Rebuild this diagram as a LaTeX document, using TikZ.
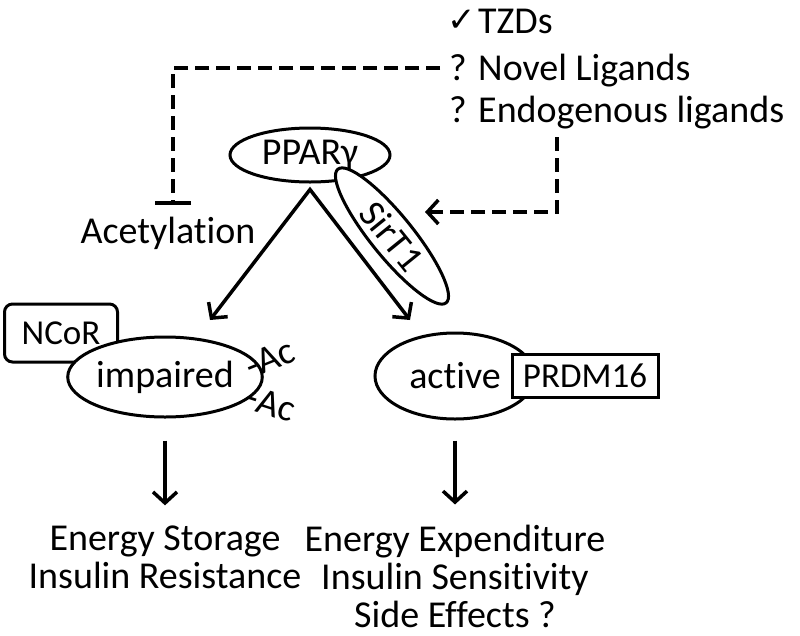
\documentclass[tikz,border=0pt]{standalone}
\usepackage{fontspec}
\setmainfont[Ligatures=NoCommon]{Carlito}
\newfontfamily\symfont{DejaVu Sans}
\usetikzlibrary{shapes.geometric,arrows.meta,positioning}

\tikzset{
  oval/.style={draw, ellipse, line width=3pt, fill=white, inner sep=0pt},
  factor/.style={draw, rectangle, line width=3pt, fill=white, inner sep=0pt, font=\fontsize{35}{35}\selectfont},
  link/.style={line width=3.5pt, -{Straight Barb[length=11pt,width=24pt]}},
  hint/.style={line width=3.5pt, dash pattern=on 14pt off 7pt},
  lbl/.style={align=center, inner sep=0pt}
}

\begin{document}
\begin{tikzpicture}[x=1pt, y=-1pt, font=\fontsize{38}{38}\selectfont]
\useasboundingbox (0,0) rectangle (800,635);

% Ligand list
\node[lbl, anchor=base west] (tzd) at (478,33) {TZDs};
\node[lbl, anchor=base west] (novel) at (478,80) {Novel Ligands};
\node[lbl, anchor=base west] (endo) at (478,122) {Endogenous ligands};
\node[lbl, anchor=base] (tick) at (462,31) {\symfont\fontsize{34}{34}\selectfont ✓};
\node[lbl, anchor=base] (qnovel) at (458,80) {?};
\node[lbl, anchor=base] (qendo) at (458,122) {?};

% PPARg with SirT1 bound
\node[oval, minimum width=160pt, minimum height=54pt] (ppar) at (310,155) {PPARγ};
\node[oval, minimum width=172pt, minimum height=42pt, rotate=-51] (sirt) at (392,236) {SirT1};

% Acetylation and the block from the ligands
\node[lbl] (acet) at (168,233) {Acetylation};
\coordinate (block-start) at (440,68);
\draw[hint, -{Bar[width=36pt]}] (block-start) -| ([xshift=5pt, yshift=12pt]acet.north);

% SirT1 activated by the ligands
\coordinate (drop) at (557,137);
\coordinate (sirt-tip) at (425,212);
\draw[hint, -{Straight Barb[length=11pt,width=24pt]}] (drop) |- (sirt-tip);

% Two fates of PPARg
\coordinate (left-tip) at (210,320);
\coordinate (right-tip) at (410,320);
\draw[link, {Straight Barb[length=11pt,width=24pt]}-{Straight Barb[length=11pt,width=24pt]}]
  (left-tip) -- ([yshift=-6pt]ppar.south) -- (right-tip);

% Impaired state
\node[factor, rounded corners=8pt, minimum width=113pt, minimum height=58pt] (ncor) at (61,333) {NCoR};
\node[oval, minimum width=166pt, minimum height=80pt] (impaired) at (165,377) {impaired};
\node[lbl, anchor=west, rotate=22] (ac1) at (247,368) {-Ac};
\node[lbl, anchor=west, rotate=-18] (ac2) at (247,396) {-Ac};

% Active state
\node[oval, minimum width=160pt, minimum height=86pt] (active) at (455,376) {active};
\node[factor, minimum width=146pt, minimum height=43pt] (prdm) at (585,376) {PRDM16};

% Outcomes
\node[lbl] (storage) at (165,557) {Energy Storage\\Insulin Resistance};
\node[lbl] (expend) at (455,576) {Energy Expenditure\\Insulin Sensitivity\\Side Effects ?};
\draw[link] ([yshift=-22pt]impaired.south) -- ([yshift=20pt]storage.north);
\draw[link] ([yshift=-20pt]active.south) -- ([yshift=20pt]expend.north);
\end{tikzpicture}
\end{document}
